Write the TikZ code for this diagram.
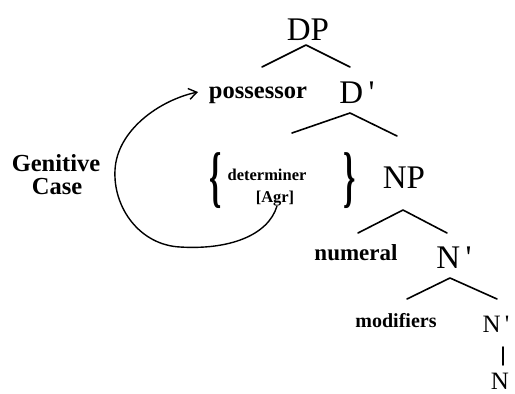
\documentclass[tikz,border=0pt]{standalone}
\usepackage{fontspec}
\setmainfont{Liberation Serif}
\usetikzlibrary{arrows.meta}
\begin{document}
\begin{tikzpicture}[x=1pt,y=1pt,
  big/.style={inner sep=0pt, anchor=base, font=\fontsize{33}{36}\selectfont},
  mid/.style={inner sep=0pt, anchor=base, font=\fontsize{25}{28}\selectfont},
  lab/.style={inner sep=0pt, anchor=base, font=\bfseries\fontsize{24.5}{28}\selectfont},
  small/.style={inner sep=0pt, anchor=base, font=\bfseries\fontsize{16.5}{18}\selectfont},
  brace/.style={inner sep=0pt, font=\bfseries\fontsize{52}{54}\selectfont},
  branch/.style={line width=1.6pt, line cap=round, line join=round},
  move/.style={line width=1.4pt, -{Straight Barb[length=8pt,width=11pt,line width=1.4pt]}},
  ]
\useasboundingbox (0,0) rectangle (515,-394);
% tree labels
\node[big] (DP) at (308,-40) {DP};
\node[lab] (poss) at (258,-98) {possessor};
\node[big] (Dbar) at (357,-103) {D\,\textquotesingle};
\node[small] (det) at (267,-180) {determiner};
\node[small] (agr) at (275,-202) {[Agr]};
\node[brace] (lb) at (216,-181) {\scalebox{0.6}[1.3]{\{}};
\node[brace] (rb) at (350,-181) {\scalebox{0.6}[1.3]{\}}};
\node[big] (NP) at (404,-188) {NP};
\node[lab, font=\bfseries\fontsize{23}{26}\selectfont] (num) at (356,-260) {numeral};
\node[big] (Nbar) at (454,-268) {N\,\textquotesingle};
\node[lab, font=\bfseries\fontsize{20}{24}\selectfont] (mod) at (396,-327) {modifiers};
\node[mid] (Nbar2) at (496,-332) {N\,\textquotesingle};
\node[mid] (N) at (500,-389) {N};
\node[lab] (gen) at (56,-171) {Genitive};
\node[lab] (case) at (57,-194) {Case};
% branch points
\coordinate (dpA) at (306,-45);
\coordinate (dpL) at (262,-67);
\coordinate (dpR) at (350,-67);
\coordinate (dbA) at (350,-113);
\coordinate (dbL) at (292,-133);
\coordinate (dbR) at (397,-136);
\coordinate (npA) at (403,-210);
\coordinate (npL) at (358,-233);
\coordinate (npR) at (447,-233);
\coordinate (nbA) at (450,-278);
\coordinate (nbL) at (407,-299);
\coordinate (nbR) at (497,-299);
\coordinate (vT) at (503,-347);
\coordinate (vB) at (503,-365);
\draw[branch] (dpL) -- (dpA) -- (dpR);
\draw[branch] (dbL) -- (dbA) -- (dbR);
\draw[branch] (npL) -- (npA) -- (npR);
\draw[branch] (nbL) -- (nbA) -- (nbR);
\draw[branch] (vT) -- (vB);
% movement arrow
\coordinate (mS) at (277,-206);
\coordinate (mT) at (198,-92);
\draw[move] (mS) .. controls (268,-236) and (228,-250) .. (180,-247)
  .. controls (140,-245) and (113,-208) .. (115,-170)
  .. controls (117,-130) and (160,-100) .. (mT);
\end{tikzpicture}
\end{document}
